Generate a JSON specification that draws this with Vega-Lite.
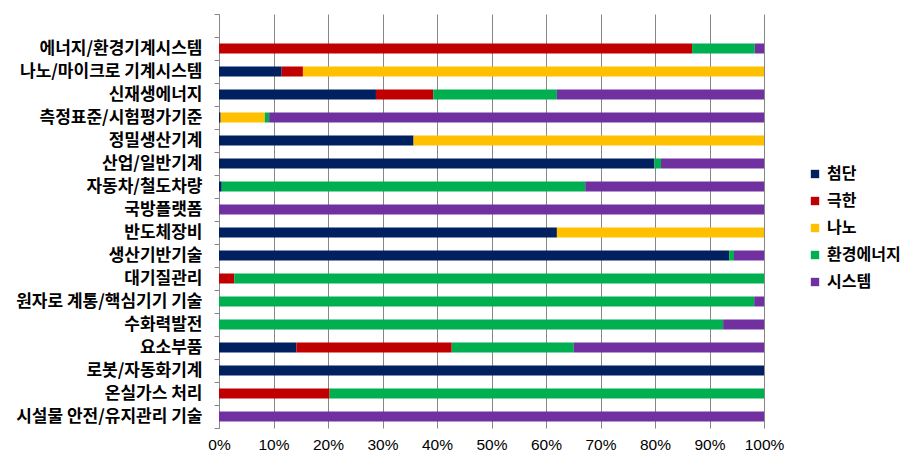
{
  "$schema": "https://vega.github.io/schema/vega-lite/v6.json",
  "autosize": {"type": "none"},
  "width": 545,
  "height": 414,
  "padding": {"left": 219, "top": 14, "right": 151, "bottom": 36},
  "background": "white",
  "data": {"values": [
    {"cat": "에너지/환경기계시스템", "type": "극한", "v": 86.8},
    {"cat": "에너지/환경기계시스템", "type": "환경에너지", "v": 11.5},
    {"cat": "에너지/환경기계시스템", "type": "시스템", "v": 1.7},
    {"cat": "나노/마이크로 기계시스템", "type": "첨단", "v": 11.5},
    {"cat": "나노/마이크로 기계시스템", "type": "극한", "v": 3.9},
    {"cat": "나노/마이크로 기계시스템", "type": "나노", "v": 84.6},
    {"cat": "신재생에너지", "type": "첨단", "v": 28.8},
    {"cat": "신재생에너지", "type": "극한", "v": 10.5},
    {"cat": "신재생에너지", "type": "환경에너지", "v": 22.7},
    {"cat": "신재생에너지", "type": "시스템", "v": 38.0},
    {"cat": "측정표준/시험평가기준", "type": "첨단", "v": 0.3},
    {"cat": "측정표준/시험평가기준", "type": "나노", "v": 8.1},
    {"cat": "측정표준/시험평가기준", "type": "환경에너지", "v": 0.8},
    {"cat": "측정표준/시험평가기준", "type": "시스템", "v": 90.8},
    {"cat": "정밀생산기계", "type": "첨단", "v": 35.7},
    {"cat": "정밀생산기계", "type": "나노", "v": 64.3},
    {"cat": "산업/일반기계", "type": "첨단", "v": 79.9},
    {"cat": "산업/일반기계", "type": "환경에너지", "v": 1.2},
    {"cat": "산업/일반기계", "type": "시스템", "v": 18.9},
    {"cat": "자동차/철도차량", "type": "첨단", "v": 0.5},
    {"cat": "자동차/철도차량", "type": "환경에너지", "v": 66.7},
    {"cat": "자동차/철도차량", "type": "시스템", "v": 32.8},
    {"cat": "국방플랫폼", "type": "시스템", "v": 100},
    {"cat": "반도체장비", "type": "첨단", "v": 62.0},
    {"cat": "반도체장비", "type": "나노", "v": 38.0},
    {"cat": "생산기반기술", "type": "첨단", "v": 93.6},
    {"cat": "생산기반기술", "type": "환경에너지", "v": 0.9},
    {"cat": "생산기반기술", "type": "시스템", "v": 5.5},
    {"cat": "대기질관리", "type": "극한", "v": 2.8},
    {"cat": "대기질관리", "type": "환경에너지", "v": 97.2},
    {"cat": "원자로 계통/핵심기기 기술", "type": "환경에너지", "v": 98.2},
    {"cat": "원자로 계통/핵심기기 기술", "type": "시스템", "v": 1.8},
    {"cat": "수화력발전", "type": "환경에너지", "v": 92.5},
    {"cat": "수화력발전", "type": "시스템", "v": 7.5},
    {"cat": "요소부품", "type": "첨단", "v": 14.2},
    {"cat": "요소부품", "type": "극한", "v": 28.5},
    {"cat": "요소부품", "type": "환경에너지", "v": 22.4},
    {"cat": "요소부품", "type": "시스템", "v": 34.9},
    {"cat": "로봇/자동화기계", "type": "첨단", "v": 100},
    {"cat": "온실가스 처리", "type": "극한", "v": 20.3},
    {"cat": "온실가스 처리", "type": "환경에너지", "v": 79.7},
    {"cat": "시설물 안전/유지관리 기술", "type": "시스템", "v": 100}
  ]},
  "transform": [
    {"calculate": "indexof(['첨단','극한','나노','환경에너지','시스템'], datum.type)", "as": "ord"}
  ],
  "mark": {"type": "bar", "size": 10},
  "encoding": {
    "y": {
      "field": "cat", "type": "nominal",
      "scale": {
        "domain": [" ", "에너지/환경기계시스템", "나노/마이크로 기계시스템", "신재생에너지", "측정표준/시험평가기준", "정밀생산기계", "산업/일반기계", "자동차/철도차량", "국방플랫폼", "반도체장비", "생산기반기술", "대기질관리", "원자로 계통/핵심기기 기술", "수화력발전", "요소부품", "로봇/자동화기계", "온실가스 처리", "시설물 안전/유지관리 기술"],
        "paddingInner": 0, "paddingOuter": 0
      },
      "axis": {
        "title": null,
        "tickBand": "extent",
        "tickSize": 5,
        "tickColor": "#888888",
        "domainColor": "#888888",
        "labelFont": "Noto Sans CJK KR",
        "labelFontSize": 17,
        "labelFontWeight": "bold",
        "labelColor": "#000000",
        "labelPadding": 12,
        "labelLimit": 260,
        "grid": false
      }
    },
    "x": {
      "field": "v", "type": "quantitative", "stack": "normalize",
      "scale": {"domain": [0, 1], "nice": false},
      "axis": {
        "title": null,
        "format": ".0%",
        "values": [0, 0.1, 0.2, 0.3, 0.4, 0.5, 0.6, 0.7, 0.8, 0.9, 1],
        "grid": true,
        "gridColor": "#868686",
        "domain": false,
        "ticks": false,
        "labelFlush": false,
        "labelFont": "Liberation Sans",
        "labelFontSize": 15.5,
        "labelColor": "#000000",
        "labelPadding": 9
      }
    },
    "color": {
      "field": "type", "type": "nominal",
      "scale": {
        "domain": ["첨단", "극한", "나노", "환경에너지", "시스템"],
        "range": ["#002060", "#C00000", "#FFC000", "#00B050", "#7030A0"]
      },
      "legend": {
        "title": null,
        "orient": "none",
        "legendX": 588,
        "legendY": 152,
        "symbolType": "square",
        "symbolSize": 70,
        "symbolStrokeWidth": 0,
        "labelFont": "Noto Sans CJK KR",
        "labelFontSize": 16,
        "labelFontWeight": "bold",
        "labelColor": "#000000",
        "labelOffset": 4,
        "rowPadding": 11
      }
    },
    "order": {"field": "ord", "type": "quantitative"}
  },
  "config": {"view": {"stroke": null}}
}
